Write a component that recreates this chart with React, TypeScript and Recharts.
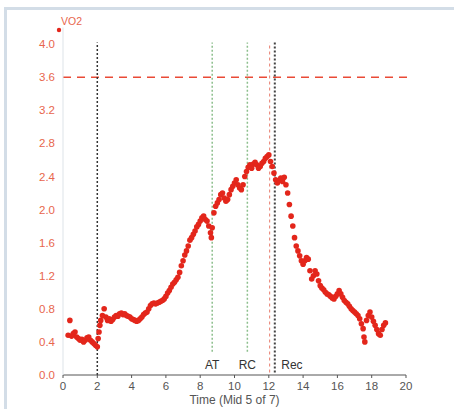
import React from 'react';
import { ScatterChart, Scatter, XAxis, YAxis, ReferenceLine, ReferenceDot } from 'recharts';

// breath-by-breath samples, minutes
const time = [
  0.3, 0.4, 0.5, 0.6, 0.7, 0.8, 0.9, 1.0, 1.1, 1.2, 1.3, 1.4, 1.5, 1.6, 1.7, 1.8, 1.9, 2.0, 2.05, 2.1,
  2.15, 2.2, 2.3, 2.4, 2.5, 2.6, 2.7, 2.8, 2.9, 3.0, 3.1, 3.2, 3.3, 3.4, 3.5, 3.6, 3.7, 3.8, 3.9, 4.0,
  4.1, 4.2, 4.3, 4.4, 4.5, 4.6, 4.7, 4.8, 4.9, 5.0, 5.1, 5.2, 5.3, 5.4, 5.5, 5.6, 5.7, 5.8, 5.9, 6.0,
  6.1, 6.2, 6.3, 6.4, 6.5, 6.6, 6.7, 6.8, 6.9, 7.0, 7.1, 7.2, 7.3, 7.4, 7.5, 7.6, 7.7, 7.8, 7.9, 8.0,
  8.1, 8.2, 8.3, 8.4, 8.5, 8.6, 8.65, 8.7, 8.8, 8.9, 9.0, 9.1, 9.2, 9.3, 9.4, 9.5, 9.6, 9.7, 9.8, 9.9,
  10.0, 10.1, 10.2, 10.3, 10.4, 10.5, 10.6, 10.7, 10.8, 10.9, 11.0, 11.1, 11.2, 11.3, 11.4, 11.5, 11.6, 11.7, 11.8, 11.9,
  12.0, 12.1, 12.2, 12.3, 12.4, 12.5, 12.6, 12.7, 12.8, 12.9, 13.0, 13.1, 13.2, 13.3, 13.4, 13.5, 13.6, 13.7, 13.8, 13.9,
  14.0, 14.1, 14.2, 14.3, 14.4, 14.5, 14.6, 14.7, 14.8, 14.9, 15.0, 15.1, 15.2, 15.3, 15.4, 15.5, 15.6, 15.7, 15.8, 15.9,
  16.0, 16.1, 16.2, 16.3, 16.4, 16.5, 16.6, 16.7, 16.8, 16.9, 17.0, 17.1, 17.2, 17.3, 17.4, 17.5, 17.55, 17.6, 17.7, 17.8,
  17.9, 18.0, 18.1, 18.2, 18.3, 18.4, 18.5, 18.6, 18.7, 18.8,
];

const vo2 = [
  0.48, 0.66, 0.47, 0.50, 0.52, 0.46, 0.44, 0.42, 0.43, 0.40, 0.42, 0.45, 0.46, 0.42, 0.40, 0.38, 0.36, 0.34, 0.44, 0.52,
  0.60, 0.66, 0.72, 0.80, 0.70, 0.66, 0.68, 0.65, 0.67, 0.70, 0.72, 0.71, 0.74, 0.75, 0.73, 0.74, 0.72, 0.71, 0.70, 0.68,
  0.67, 0.66, 0.65, 0.66, 0.68, 0.70, 0.73, 0.75, 0.76, 0.80, 0.84, 0.86, 0.87, 0.86, 0.87, 0.88, 0.89, 0.90, 0.92, 0.95,
  0.99, 1.02, 1.06, 1.10, 1.12, 1.15, 1.18, 1.24, 1.32, 1.38, 1.45, 1.50, 1.56, 1.63, 1.66, 1.70, 1.74, 1.79, 1.82, 1.86,
  1.90, 1.92, 1.88, 1.86, 1.80, 1.72, 1.66, 1.78, 1.96, 2.04, 2.08, 2.12, 2.18, 2.20, 2.14, 2.10, 2.12, 2.18, 2.24, 2.28,
  2.32, 2.36, 2.30, 2.26, 2.24, 2.30, 2.40, 2.46, 2.51, 2.54, 2.50, 2.55, 2.57, 2.54, 2.50, 2.52, 2.56, 2.58, 2.62, 2.64,
  2.66, 2.58, 2.52, 2.44, 2.36, 2.32, 2.35, 2.38, 2.34, 2.39, 2.30, 2.20, 2.06, 1.92, 1.80, 1.66, 1.56, 1.50, 1.44, 1.38,
  1.34, 1.38, 1.42, 1.40, 1.26, 1.16, 1.20, 1.26, 1.22, 1.14, 1.08, 1.05, 1.03, 1.00, 0.98, 0.97, 0.95, 0.93, 0.92, 0.95,
  0.98, 1.02, 0.98, 0.94, 0.90, 0.88, 0.86, 0.83, 0.80, 0.78, 0.76, 0.74, 0.72, 0.68, 0.62, 0.56, 0.46, 0.40, 0.66, 0.72,
  0.76, 0.70, 0.65, 0.60, 0.55, 0.50, 0.48, 0.55, 0.60, 0.63,
];

const xTicks = [0, 2, 4, 6, 8, 10, 12, 14, 16, 18, 20];
const yTicks = [0, 0.4, 0.8, 1.2, 1.6, 2.0, 2.4, 2.8, 3.2, 3.6, 4.0];

const warmupEnd = 2;
const vo2Target = 3.6;
const atTime = 8.7;
const rcTime = 10.75;
const peakTime = 12.05;
const recTime = 12.35;

const data = time.map((t, i) => ({ t, v: vo2[i] }));

const font = '"Liberation Sans", Arial, sans-serif';
const red = '#e3261b';

const Dot = (props: any) => <circle cx={props.cx} cy={props.cy} r={2.8} fill={red} />;

const YLabel = (props: any) => {
  const vb = props.viewBox;
  const x = vb.x + vb.width;
  return (
    <g>
      <circle cx={x - 4} cy={vb.y + 2.5} r={2.2} fill={red} />
      <text x={x - 2} y={vb.y - 3} fill="#e8664d" fontSize={10.5} fontFamily={font}>VO2</text>
    </g>
  );
};

export default function App() {
  return (
    <div style={{ position: 'absolute', left: 0, top: 0, width: 454, height: 409, background: '#fff' }}>
      <div style={{ position: 'absolute', left: 4, top: 7, right: 0, bottom: 0, borderTop: '3px solid #d3dde7', borderLeft: '3px solid #d3dde7' }} />
      <ScatterChart width={454} height={409} margin={{ top: 27.5, right: 48, bottom: 4, left: 13 }} style={{ position: 'absolute', left: 0, top: 0 }}>
        <XAxis
          type="number"
          dataKey="t"
          domain={[0, 20]}
          ticks={xTicks}
          height={30}
          stroke="#555"
          tickSize={3}
          tickMargin={4}
          tick={{ fill: '#555', fontSize: 11.5, fontFamily: font }}
          label={{ value: 'Time (Mid 5 of 7)', position: 'insideBottom', offset: 1, fill: '#555', fontSize: 12, fontFamily: font }}
        />
        <YAxis
          type="number"
          dataKey="v"
          domain={[0, 4.2]}
          ticks={yTicks}
          width={50}
          stroke="#dde3e8"
          tickLine={false}
          tickFormatter={(v: number) => v.toFixed(1)}
          tick={{ fill: '#e8664d', fontSize: 11.5, fontFamily: font }}
          label={<YLabel />}
        />
        <ReferenceLine segment={[{ x: 0, y: vo2Target }, { x: 20.2, y: vo2Target }]} stroke="#ea4a36" strokeWidth={1.5} strokeDasharray="8 6" ifOverflow="visible" />
        <ReferenceLine segment={[{ x: warmupEnd, y: 0 }, { x: warmupEnd, y: 4.02 }]} stroke="#333" strokeWidth={1.5} strokeDasharray="2 2" />
        <ReferenceLine segment={[{ x: atTime, y: 0.28 }, { x: atTime, y: 4.02 }]} stroke="#8dbf8d" strokeWidth={1.5} strokeDasharray="2 2" />
        <ReferenceLine segment={[{ x: rcTime, y: 0.28 }, { x: rcTime, y: 4.02 }]} stroke="#8dbf8d" strokeWidth={1.5} strokeDasharray="2 2" />
        <ReferenceLine segment={[{ x: peakTime, y: 0.03 }, { x: peakTime, y: 4.02 }]} stroke="#e87a6a" strokeWidth={1} strokeDasharray="3 3" />
        <ReferenceLine segment={[{ x: recTime, y: 0.03 }, { x: recTime, y: 4.02 }]} stroke="#444" strokeWidth={2} strokeDasharray="2 2" />
        <Scatter data={data} shape={<Dot />} isAnimationActive={false} />
        <ReferenceDot x={atTime} y={0.12} r={0} fill="none" stroke="none" label={{ value: 'AT', position: 'center', fill: '#333', fontSize: 12, fontFamily: font }} />
        <ReferenceDot x={rcTime} y={0.12} r={0} fill="none" stroke="none" label={{ value: 'RC', position: 'center', fill: '#333', fontSize: 12, fontFamily: font }} />
        <ReferenceDot x={13.35} y={0.12} r={0} fill="none" stroke="none" label={{ value: 'Rec', position: 'center', fill: '#333', fontSize: 12, fontFamily: font }} />
      </ScatterChart>
    </div>
  );
}
